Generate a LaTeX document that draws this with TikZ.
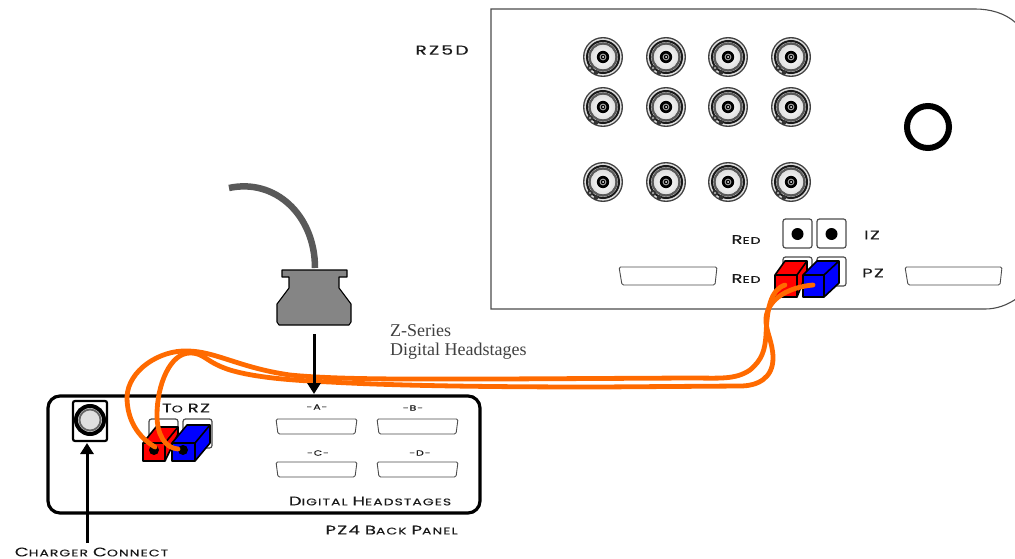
\documentclass[tikz,border=0pt]{standalone}
\usepackage{fontspec}
\setmainfont{Poppins}[FakeStretch=1.45,LetterSpace=11,FakeBold=0.25]
\newfontfamily\serifface{Liberation Serif}
\usetikzlibrary{arrows.meta}
\definecolor{wire}{HTML}{FF6A00}
\newcommand\Bg[1]{{\fontsize{12.5}{13}\selectfont #1}}
\newcommand\Sm[1]{{\fontsize{9.6}{13}\selectfont #1}}
\tikzset{
  x=1pt,y=-1pt,
  caplabel/.style={inner sep=0pt,text=black!90},
  smalllabel/.style={inner sep=0pt,font=\fontsize{7.5}{8}\selectfont,text=black!90},
  serifnote/.style={inner sep=0pt,anchor=base west,font=\serifface\fontsize{18}{20}\selectfont,text=black!75},
  thickpanel/.style={draw=black,line width=3.2pt,rounded corners=12pt},
  dsub/.style={draw=black!70,line width=.9pt,fill=white,rounded corners=1.5pt},
  jack/.style={draw=black!70,line width=1.2pt,fill=white,rounded corners=2.5pt},
  pluga/.style={draw=black,line width=1.6pt,line join=round},
  orangewire/.style={draw=wire,line width=4.8pt,line cap=round},
  pointer/.style={draw=black,line width=3pt,-{Triangle[length=11pt,width=13pt]}},
  bnc/.pic={
    \fill[black!75] (0,0) circle (20);
    \fill[black!12] (0,0) circle (18.6);
    \draw[black!90,line width=2pt] (0,0) circle (16);
    \draw[black!65,line width=2.4pt] (0,0) circle (13.4);
    \shade[inner color=white,outer color=black!12] (0,0) circle (12.2);
    \fill[black] (0,0) circle (6.2);
    \fill[black!35] (0,0) circle (3.4);
    \fill[black] (0,0) circle (2.2);
    \fill[white] (0,0) circle (1);
    \fill[black!80] (-13,11) circle (3);
    \fill[black!25] (-13,11) circle (1.2);
    \fill[black!80] (-7,15.5) circle (2.4);
  },
}
\begin{document}
\begin{tikzpicture}
\useasboundingbox (0,0) rectangle (1015,559);
% RZ5D panel
\draw[black!70,line width=1.1pt] (1016,23) .. controls (1005,13) and (990,9) .. (975,9) -- (491,9) -- (491,309) -- (985,309) .. controls (997,309) and (1007,305) .. (1016,299);
\node[caplabel] (rzlabel) at (442,50) {\fontsize{13}{13}\selectfont R\,Z\,5\,D};
\foreach \cx in {603,666,728,791}
  \foreach \cy in {57,107,182}
    \pic at (\cx,\cy) {bnc};
\draw[black,line width=6pt] (928,127) circle (21);
% connector ports on the RZ5D
\draw[jack] (783,219) rectangle (812,248);
\draw[jack] (817,219) rectangle (846,248);
\fill (797.5,234) circle (6);
\fill (831.5,234) circle (6);
\draw[jack] (783,257) rectangle (812,286);
\draw[jack] (817,257) rectangle (846,286);
\node[caplabel] (redone) at (746,239.5) {\Bg{R}\Sm{ED}};
\node[caplabel] (redtwo) at (746,278.5) {\Bg{R}\Sm{ED}};
\node[caplabel] (iz) at (872,235) {\Bg{IZ}};
\node[caplabel] (pz) at (873,273) {\Bg{PZ}};
\draw[dsub] (619,267) -- (717,267) -- (715,285) -- (622,285) -- cycle;
\draw[dsub] (905,267) -- (1002,267) -- (1000,285) -- (908,285) -- cycle;
% plugs on the RZ5D
\filldraw[pluga,fill=red] (775,275) -- (785,261) -- (807,261) -- (807,272) -- (797,297) -- (775,297) -- cycle;
\draw[pluga] (775,275) -- (797,275) -- (807,261) (797,275) -- (797,297);
\filldraw[pluga,fill=blue] (803,275) -- (817,261) -- (839,261) -- (839,283) -- (824,297) -- (803,297) -- cycle;
\draw[pluga] (803,275) -- (824,275) -- (839,261) (824,275) -- (824,297);
\coordinate (rzred) at (785,285);
\coordinate (rzblue) at (813,285);
% cable and plug
\draw[draw=black!65,line width=6.5pt] (229,188) .. controls (275,178) and (315,215) .. (315,268);
\filldraw[draw=black,fill=black!48,line width=1.1pt,line join=round] (282,270) -- (347,270) -- (347,277) -- (339,277) -- (339,288) -- (351,304) -- (351,322) -- (349,325) -- (279,325) -- (277,322) -- (277,304) -- (289,288) -- (289,277) -- (282,277) -- cycle;
\coordinate (plugbase) at (314,334);
\node[serifnote] (ztitle) at (390,336) {Z-Series};
\node[serifnote] (zsub) at (390,355) {Digital Headstages};
% PZ4 back panel
\draw[thickpanel] (48,396) rectangle (480,513);
\coordinate (pztop) at (314,394);
\draw[black,line width=2.2pt,rounded corners=2pt] (73,401) rectangle (107,441);
\node[circle,draw=black,line width=4pt,fill=black!12,minimum size=28pt,inner sep=0pt] (charger) at (90,420) {};
\draw[black!60,line width=1.8pt] (90,420) circle (10.5);
\node[caplabel] (toz) at (186,408) {\Bg{T}\Sm{O}\ \Bg{RZ}};
\draw[jack] (149,419) rectangle (178,448);
\draw[jack] (183,419) rectangle (212,448);
\filldraw[pluga,fill=red] (143,443) -- (156,427) -- (178,427) -- (178,434) -- (165,461) -- (143,461) -- cycle;
\draw[pluga] (143,443) -- (165,443) -- (178,427) (165,443) -- (165,461);
\filldraw[pluga,fill=blue] (172,443) -- (187,425) -- (210,425) -- (210,443) -- (195,461) -- (172,461) -- cycle;
\draw[pluga] (172,443) -- (195,443) -- (210,425) (195,443) -- (195,461);
\fill (154,450) circle (5);
\fill (183,450) circle (5);
\coordinate (pzred) at (155,447);
\coordinate (pzblue) at (178,449);
\draw[dsub] (276,419) -- (357,419) -- (355,434) -- (278,434) -- cycle;
\draw[dsub] (377,419) -- (458,419) -- (456,434) -- (379,434) -- cycle;
\draw[dsub] (276,462) -- (357,462) -- (355,477) -- (278,477) -- cycle;
\draw[dsub] (377,462) -- (458,462) -- (456,477) -- (379,477) -- cycle;
\node[smalllabel] (porta) at (317,407) {-A-};
\node[smalllabel] (portb) at (413,408) {-B-};
\node[smalllabel] (portc) at (318,453) {-C-};
\node[smalllabel] (portd) at (420,453) {-D-};
\node[caplabel] (dighead) at (370,501) {\Bg{D}\Sm{IGITAL} \Bg{H}\Sm{EADSTAGES}};
\node[caplabel] (pzback) at (391.5,530) {\Bg{PZ4} \Bg{B}\Sm{ACK} \Bg{P}\Sm{ANEL}};
\node[caplabel] (charge) at (91.5,552) {\Bg{C}\Sm{HARGER} \Bg{C}\Sm{ONNECT}};
% orange wires
\draw[orangewire] (pzred) .. controls (138,437) and (127,420) .. (127,397) .. controls (128,370) and (160,350) .. (187,351) .. controls (215,351) and (240,368) .. (290,375) .. controls (340,380) and (420,379) .. (500,379) -- (690,378) .. controls (720,378) and (735,380) .. (750,370) .. controls (762,360) and (765,350) .. (766,335) .. controls (767,310) and (770,290) .. (rzred);
\draw[orangewire] (pzblue) .. controls (165,448) and (157,435) .. (157,415) .. controls (157,385) and (170,353) .. (190,353) .. controls (205,353) and (205,362) .. (230,370) .. controls (250,376) and (280,380) .. (330,382) .. controls (400,386) and (500,387) .. (600,387) -- (740,386) .. controls (758,386) and (773,378) .. (773,358) .. controls (773,342) and (765,330) .. (766,318) .. controls (768,298) and (790,287) .. (rzblue);
% pointers
\draw[pointer] (plugbase) -- (pztop);
\coordinate (chargetail) at (87,543);
\draw[pointer] (chargetail) -- (87,443);
\end{tikzpicture}
\end{document}
